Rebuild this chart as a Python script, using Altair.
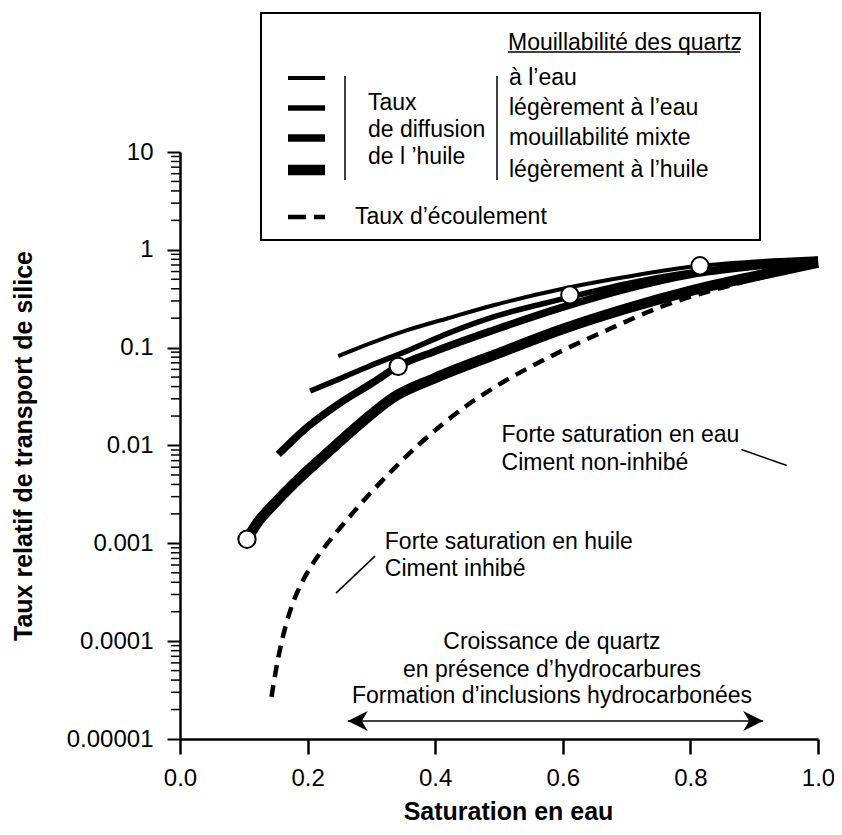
import altair as alt
import pandas as pd

# ---------------- data ----------------
# Taux de diffusion de l'huile (four wettabilities)
eau_x = [0.248, 0.30, 0.355, 0.42, 0.49, 0.60, 0.70, 0.80, 0.90, 1.00]
eau_y = [0.082, 0.112, 0.150, 0.20, 0.27, 0.40, 0.53, 0.67, 0.76, 0.82]

leg_eau_x = [0.204, 0.25, 0.30, 0.355, 0.42, 0.49, 0.60, 0.70, 0.80, 0.90, 1.00]
leg_eau_y = [0.036, 0.048, 0.066, 0.092, 0.14, 0.205, 0.315, 0.45, 0.59, 0.70, 0.80]

mixte_x = [0.154, 0.20, 0.25, 0.30, 0.342, 0.40, 0.49, 0.60, 0.70, 0.80, 0.90, 1.00]
mixte_y = [0.0081, 0.0155, 0.027, 0.043, 0.0645, 0.092, 0.15, 0.26, 0.40, 0.56, 0.68, 0.78]

huile_x = [0.105, 0.12, 0.15, 0.188, 0.23, 0.28, 0.334, 0.40, 0.50, 0.60, 0.70, 0.80, 0.90, 1.00]
huile_y = [0.0011, 0.00158, 0.00263, 0.00468, 0.0083, 0.0162, 0.0309, 0.049, 0.088, 0.155,
           0.251, 0.38, 0.537, 0.741]

# Taux d'écoulement (dashed)
ecoul_x = [0.1434, 0.1505, 0.1599, 0.1732, 0.1928, 0.21, 0.23, 0.261, 0.282, 0.334, 0.375,
           0.413, 0.449, 0.491, 0.554, 0.60, 0.658, 0.763, 0.867, 0.935]
ecoul_y = [2.69e-5, 5.13e-5, 1.02e-4, 2.09e-4, 4.17e-4, 6.46e-4, 9.77e-4, 1.72e-3, 2.48e-3,
           5.69e-3, 0.0103, 0.01683, 0.02547, 0.03864, 0.0661, 0.0938, 0.14, 0.275, 0.44, 0.569]

# open circles
circ_x = [0.105, 0.342, 0.611, 0.815]
circ_y = [0.0011, 0.0645, 0.347, 0.687]

# axes
x_tick_values = [0.0, 0.2, 0.4, 0.6, 0.8, 1.0]
y_tick_values = [1e-5, 1e-4, 1e-3, 1e-2, 1e-1, 1, 10]
y_tick_labels = ["0.00001", "0.0001", "0.001", "0.01", "0.1", "1", "10"]
y_minor_values = [k * 10.0 ** d for d in range(-5, 1) for k in range(2, 10)]

# annotations (data coordinates)
ann_left_text = ["Forte saturation en eau", "Ciment non-inhibé",
                 "Forte saturation en huile", "Ciment inhibé"]
ann_left_x = [0.504, 0.504, 0.321, 0.321]
ann_left_y = [0.0129, 0.0067, 0.00102, 0.000543]

ann_center_text = ["Croissance de quartz", "en présence d’hydrocarbures",
                   "Formation d’inclusions hydrocarbonées"]
ann_center_x = [0.583, 0.583, 0.583]
ann_center_y = [9.8e-5, 5.06e-5, 2.75e-5]

leader_x1 = [0.880, 0.3056]
leader_x2 = [0.951, 0.2445]
leader_y1 = [0.0091, 0.00074]
leader_y2 = [0.00625, 0.00031]

arrow_x = [0.263, 0.914]
arrow_y = [1.53e-5, 1.53e-5]

# ---------------- chart ----------------
W, H = 638, 587
FONT = "Liberation Sans"

xscale = alt.Scale(domain=[0, 1], nice=False, zero=False)
yscale = alt.Scale(type="log", domain=[1e-5, 10], nice=False)

y_label_expr = "[" + ",".join(f"'{s}'" for s in y_tick_labels) + "][round(log(datum.value)/LN10)+5]"

x_axis = alt.Axis(values=x_tick_values, labelExpr="format(datum.value, '.1f')",
                  title="Saturation en eau", tickSize=15, tickWidth=2.5, domainWidth=2.5,
                  labelPadding=12, titlePadding=9, labelFlush=False, labelOverlap=False,
                  titleX=328)
y_axis = alt.Axis(values=y_tick_values, labelExpr=y_label_expr,
                  title="Taux relatif de transport de silice", tickSize=13, tickWidth=2,
                  domainWidth=2.5, labelPadding=14, titlePadding=30, labelFlush=False,
                  labelOverlap=False)


def X(f):
    return alt.X(f, type="quantitative", scale=xscale, axis=x_axis)


def Y(f):
    return alt.Y(f, type="quantitative", scale=yscale, axis=y_axis)


one = pd.DataFrame({"k": [0]})


def px_text(txt, x, y, size=23):
    return alt.Chart(one).mark_text(align="left", baseline="middle", font=FONT,
                                    fontSize=size, color="black").encode(
        x=alt.value(x), y=alt.value(y), text=alt.value(txt))


def px_rule(x1, x2, y1, y2, w, dash=None):
    kw = dict(color="black", strokeWidth=w)
    if dash:
        kw["strokeDash"] = dash
    return alt.Chart(one).mark_rule(**kw).encode(
        x=alt.value(x1), x2=alt.value(x2), y=alt.value(y1), y2=alt.value(y2))


def curve(xs, ys, w, dash=None):
    df = pd.DataFrame({"x": xs, "y": ys})
    kw = dict(color="black", strokeWidth=w, interpolate="monotone")
    if dash:
        kw["strokeDash"] = dash
    return alt.Chart(df).mark_line(**kw).encode(x=X("x"), y=Y("y"))


layers = []

# legend box
layers.append(alt.Chart(one).mark_rect(fill="white", stroke="black", strokeWidth=2).encode(
    x=alt.value(81), x2=alt.value(580), y=alt.value(-139), y2=alt.value(88)))
layers.append(px_text("Mouillabilité des quartz", 328, -109))
layers.append(px_rule(328, 560, -100, -100, 1.5))
for yy, w in zip([-74, -44, -14, 18], [4, 5.5, 7.5, 10.5]):
    layers.append(px_rule(108, 145, yy, yy, w))
layers.append(px_rule(165, 165, -76, 28, 1.5))
layers.append(px_rule(317, 317, -76, 28, 1.5))
for t, yy in zip(["Taux", "de diffusion", "de l ’huile"], [-49, -22, 5]):
    layers.append(px_text(t, 188, yy))
for t, yy in zip(["à l’eau", "légèrement à l’eau", "mouillabilité mixte", "légèrement à l’huile"],
                 [-74, -44, -14, 18]):
    layers.append(px_text(t, 329, yy))
layers.append(px_rule(108, 145, 65, 65, 4.5, dash=[18, 8]))
layers.append(px_text("Taux d’écoulement", 175, 65))

# curves
layers.append(curve(ecoul_x, ecoul_y, 4.5, dash=[12, 8]))
layers.append(curve(huile_x, huile_y, 10.5))
layers.append(curve(mixte_x, mixte_y, 7.5))
layers.append(curve(leg_eau_x, leg_eau_y, 5.5))
layers.append(curve(eau_x, eau_y, 4))

# circles
layers.append(alt.Chart(pd.DataFrame({"x": circ_x, "y": circ_y})).mark_point(
    shape="circle", filled=True, fill="white", stroke="black", strokeWidth=2,
    size=300, opacity=1).encode(x=X("x"), y=Y("y")))

# annotations
layers.append(alt.Chart(pd.DataFrame({"x": ann_left_x, "y": ann_left_y, "t": ann_left_text}))
              .mark_text(align="left", baseline="middle", font=FONT, fontSize=23, color="black")
              .encode(x=X("x"), y=Y("y"), text="t:N"))
layers.append(alt.Chart(pd.DataFrame({"x": ann_center_x, "y": ann_center_y, "t": ann_center_text}))
              .mark_text(align="center", baseline="middle", font=FONT, fontSize=23, color="black")
              .encode(x=X("x"), y=Y("y"), text="t:N"))
layers.append(alt.Chart(pd.DataFrame({"x1": leader_x1, "x2": leader_x2,
                                      "y1": leader_y1, "y2": leader_y2}))
              .mark_rule(color="black", strokeWidth=1.5)
              .encode(x=X("x1"), x2="x2", y=Y("y1"), y2="y2"))

# double arrow
adf = pd.DataFrame({"x": arrow_x, "y": arrow_y})
layers.append(alt.Chart(pd.DataFrame({"x1": [arrow_x[0]], "x2": [arrow_x[1]], "y": [arrow_y[0]]}))
              .mark_rule(color="black", strokeWidth=1.5)
              .encode(x=X("x1"), x2="x2", y=Y("y")))
layers.append(alt.Chart(adf.iloc[[0]]).mark_point(
    shape="M0,0L2,-1L1.4,0L2,1Z", filled=True, color="black", size=400, opacity=1)
    .encode(x=X("x"), y=Y("y")))
layers.append(alt.Chart(adf.iloc[[1]]).mark_point(
    shape="M0,0L-2,-1L-1.4,0L-2,1Z", filled=True, color="black", size=400, opacity=1)
    .encode(x=X("x"), y=Y("y")))

# minor y ticks
layers.append(alt.Chart(pd.DataFrame({"v": y_minor_values})).mark_rule(
    color="black", strokeWidth=1.5).encode(y=Y("v"), x=alt.value(-9), x2=alt.value(0)))

chart = alt.layer(*layers).properties(
    width=W, height=H,
    autosize=alt.AutoSizeParams(type="none"),
    padding={"left": 172, "top": 144, "right": 16, "bottom": 88},
).configure_view(stroke=None).configure_axis(
    labelFont=FONT, titleFont=FONT, labelFontSize=24, titleFontSize=25,
    titleFontWeight="bold", labelColor="black", titleColor="black",
    domainColor="black", tickColor="black", grid=False,
)

chart.save("out.html", embed_options={"renderer": "svg", "actions": False})
